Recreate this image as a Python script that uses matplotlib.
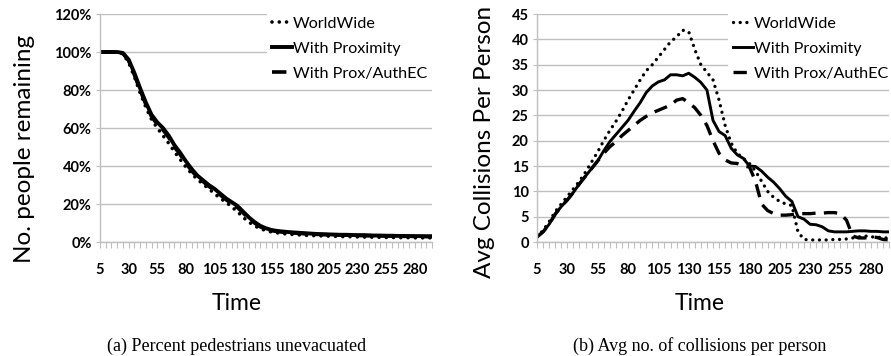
import matplotlib
matplotlib.use("Agg")
import matplotlib.pyplot as plt
from matplotlib.ticker import FixedLocator, FuncFormatter
import numpy as np

# === Data ===
time = list(range(5, 300, 5))

remain_ww = [100, 100, 100, 100, 99, 94.5, 87, 78.5, 71, 64.5,
             60, 56, 52, 47.5, 43.5, 39.5, 36, 33, 30.5, 28,
             25.5, 23, 21, 18.5, 16, 13, 10.5, 8.5, 7, 6,
             5.2, 4.8, 4.4, 4.1, 3.9, 3.7, 3.5, 3.4, 3.3, 3.2,
             3.1, 3.0, 2.9, 2.8, 2.8, 2.7, 2.6, 2.6, 2.5, 2.5,
             2.4, 2.4, 2.3, 2.3, 2.3, 2.2, 2.2, 2.2, 2.2]
remain_prox = [100, 100, 100, 100, 99.5, 96, 89, 81, 73.5, 67,
               63, 60, 56, 51, 47, 42.5, 38.5, 35, 32.5, 30,
               28, 25.5, 23, 21, 19, 16, 13, 10.5, 8.5, 7.2,
               6.3, 5.8, 5.5, 5.2, 5.0, 4.8, 4.6, 4.4, 4.2, 4.1,
               4.0, 3.9, 3.8, 3.8, 3.7, 3.6, 3.6, 3.5, 3.4, 3.4,
               3.3, 3.3, 3.2, 3.2, 3.1, 3.1, 3.1, 3.0, 3.0]
remain_auth = [100, 100, 100, 100, 99.3, 95.5, 88, 80, 72.5, 66,
               62, 59, 55, 50, 46, 41.5, 37.5, 34.2, 31.8, 29.3,
               27.2, 24.8, 22.3, 20.2, 18.2, 15.3, 12.3, 10, 8, 6.8,
               6.0, 5.5, 5.2, 4.9, 4.7, 4.5, 4.3, 4.1, 4.0, 3.9,
               3.8, 3.7, 3.6, 3.6, 3.5, 3.4, 3.4, 3.3, 3.3, 3.2,
               3.2, 3.1, 3.1, 3.0, 3.0, 3.0, 2.9, 2.9, 2.9]

coll_ww = [1, 2.3, 4, 6, 7.5, 9, 10.5, 12, 13.8, 15.8,
           17.8, 20, 22, 23.8, 25.8, 28, 30, 32, 33.8, 35,
           36.5, 38, 39.5, 40.5, 41.8, 41.5, 38, 35, 33.5, 32,
           28, 23, 19.5, 17.5, 16.5, 15.5, 14, 12, 10, 8.8,
           8, 7.5, 7.2, 2, 0.5, 0.4, 0.4, 0.4, 0.4, 0.5,
           0.5, 0.6, 0.8, 1, 1.2, 1, 1, 0.8, 0.8]
coll_prox = [1, 2, 3.5, 5.5, 7, 8.3, 9.8, 11.5, 13, 14.5,
             16, 18, 19.8, 21.2, 22.6, 24, 25.8, 27.5, 29.5, 30.8,
             31.6, 32, 33, 33, 32.8, 33.3, 32.5, 31.5, 30, 24,
             21.8, 21, 18.5, 17.2, 16.5, 15, 14.9, 14, 12.8, 11.8,
             10.5, 9, 8, 5, 4.5, 3.5, 3.4, 3, 2.2, 2,
             2, 2, 2.1, 2.2, 2.2, 2.1, 2.1, 2, 2]
coll_auth = [1, 2, 3.5, 5.5, 7, 8.3, 9.8, 11.5, 13, 14.5,
             16, 17.5, 18.8, 19.8, 21, 22, 23, 24, 24.8, 25.5,
             26, 26.5, 27, 28, 28.3, 27.5, 26.5, 25, 23, 20,
             17.5, 16.2, 15.6, 15.5, 15, 14.8, 12, 7.5, 6.2, 5.6,
             5.3, 5.3, 5.4, 5.6, 5.6, 5.6, 5.7, 5.7, 5.8, 5.8,
             5.6, 4.3, 1.2, 0.8, 0.8, 1, 0.9, 0.5, 0.4]

labels = ["WorldWide", "With Proximity", "With Prox/AuthEC"]
xtick_labels = list(range(5, 285, 25))

FONT = "Lato"
GRID = "#bfbfbf"
DOTS = (0, (0.01, 2.0))

fig = plt.figure(figsize=(8.91, 3.56), dpi=100)
ax1 = fig.add_axes([100 / 891, 1 - 242 / 356, 332 / 891, 228 / 356])
ax2 = fig.add_axes([537 / 891, 1 - 242 / 356, 352 / 891, 228 / 356])


def style_axis(ax, ymax, ystep, fmt):
    ax.set_xlim(time[0], time[-1])
    ax.set_ylim(0, ymax)
    ax.xaxis.set_major_locator(FixedLocator(xtick_labels))
    ax.xaxis.set_minor_locator(FixedLocator(time))
    ax.set_yticks(np.arange(0, ymax + 0.01, ystep))
    ax.yaxis.set_major_formatter(FuncFormatter(fmt))
    ax.grid(axis="y", color=GRID, linewidth=1)
    ax.set_axisbelow(True)
    for s in ["top", "right"]:
        ax.spines[s].set_visible(False)
    for s in ["left", "bottom"]:
        ax.spines[s].set_color(GRID)
        ax.spines[s].set_linewidth(1)
    ax.tick_params(axis="x", which="both", direction="out", length=4,
                   color=GRID, width=0.8, pad=11)
    ax.tick_params(axis="y", length=3, color=GRID, pad=3)
    for lab in ax.get_xticklabels() + ax.get_yticklabels():
        lab.set_fontfamily(FONT)
        lab.set_fontweight("bold")
        lab.set_fontsize(10.5)


def legend(ax, x0):
    ax.legend(loc="upper left", bbox_to_anchor=(x0, 1.01), borderaxespad=0,
              frameon=True, facecolor="white", edgecolor="none",
              framealpha=1, fancybox=False, handlelength=1.24,
              handletextpad=0.05, labelspacing=0.66, borderpad=0.3,
              prop={"family": FONT, "size": 11.6})


# Plot (a): people remaining
ax1.plot(time, remain_ww, color="black", linestyle=DOTS, linewidth=2.6,
         dash_capstyle="round", label=labels[0])
ax1.plot(time, remain_prox, color="black", linestyle="-", linewidth=2.8,
         label=labels[1])
ax1.plot(time, remain_auth, color="black", linestyle=(0, (4, 2)), linewidth=2.6,
         label=labels[2])
style_axis(ax1, 120, 20, lambda v, p: f"{int(v)}%")
ax1.set_ylabel("No. people remaining", fontfamily=FONT, fontsize=17.5)
ax1.yaxis.set_label_coords(-0.196, 0.41)
legend(ax1, 0.504)

# Plot (b): collisions per person
ax2.plot(time, coll_ww, color="black", linestyle=DOTS, linewidth=2.4,
         dash_capstyle="round", label=labels[0])
ax2.plot(time, coll_prox, color="black", linestyle="-", linewidth=2.1,
         label=labels[1])
ax2.plot(time, coll_auth, color="black", linestyle=(0, (4, 2.5)), linewidth=2.4,
         label=labels[2])
style_axis(ax2, 45, 5, lambda v, p: f"{int(v)}")
ax2.set_ylabel("Avg Collisions Per Person", fontfamily=FONT, fontsize=17.5)
ax2.yaxis.set_label_coords(-0.119, 0.44)
legend(ax2, 0.544)

# Axis titles and captions
fig.text(237 / 891, 1 - 304 / 356, "Time", ha="center", va="center",
         fontfamily=FONT, fontsize=16.5)
fig.text(700 / 891, 1 - 304 / 356, "Time", ha="center", va="center",
         fontfamily=FONT, fontsize=16.5)
fig.text(237 / 891, 1 - 346 / 356, "(a) Percent pedestrians unevacuated",
         ha="center", va="center", fontfamily="Liberation Serif", fontsize=13)
fig.text(700 / 891, 1 - 346 / 356, "(b) Avg no. of collisions per person",
         ha="center", va="center", fontfamily="Liberation Serif", fontsize=13)

fig.savefig("out.png", dpi=100)
